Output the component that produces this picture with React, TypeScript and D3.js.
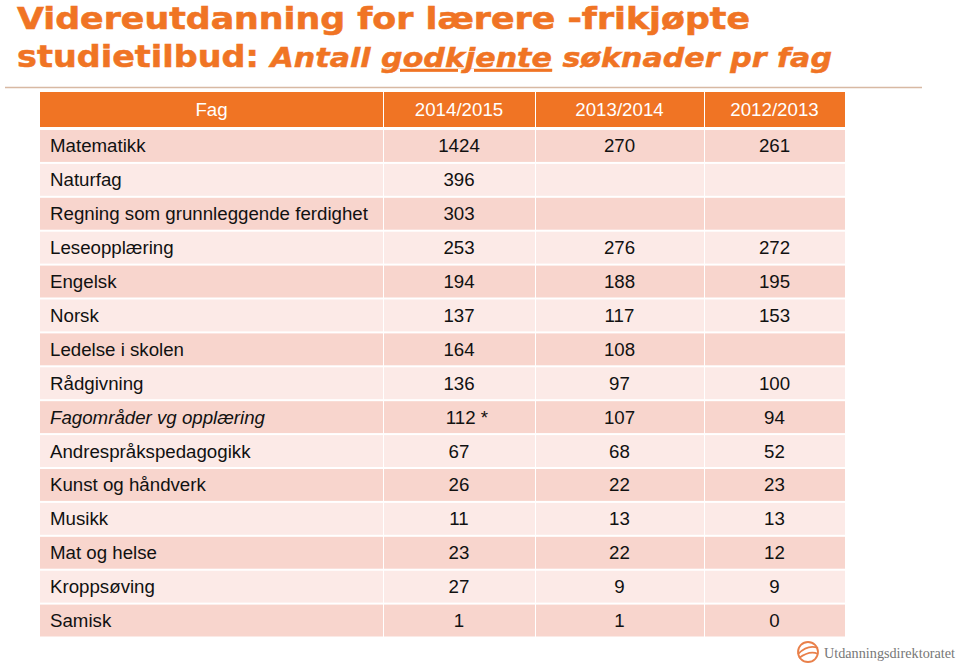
import React from "react";
import * as d3 from "d3";

const columns = ["Fag", "2014/2015", "2013/2014", "2012/2013"];
const subjects = [
  "Matematikk",
  "Naturfag",
  "Regning som grunnleggende ferdighet",
  "Leseopplæring",
  "Engelsk",
  "Norsk",
  "Ledelse i skolen",
  "Rådgivning",
  "Fagområder vg opplæring",
  "Andrespråkspedagogikk",
  "Kunst og håndverk",
  "Musikk",
  "Mat og helse",
  "Kroppsøving",
  "Samisk",
];
const y2014 = ["1424", "396", "303", "253", "194", "137", "164", "136", "112 *", "67", "26", "11", "23", "27", "1"];
const y2013 = ["270", "", "", "276", "188", "117", "108", "97", "107", "68", "22", "13", "22", "9", "1"];
const y2012 = ["261", "", "", "272", "195", "153", "", "100", "94", "52", "23", "13", "12", "9", "0"];
const italicRows = ["Fagområder vg opplæring"];

const W = 959;
const H = 667;
const ORANGE = "#F07424";
const DARK = "#F8D5CD";
const LIGHT = "#FCEAE7";

export default function App() {
  const colEdges = [40, 383, 535, 704, 845];
  const headerTop = 92;
  const headerH = 35;
  const rowsTop = 129;
  const rowH = 33.9;
  const y = d3
    .scaleBand<string>()
    .domain(subjects)
    .range([rowsTop, rowsTop + rowH * subjects.length])
    .padding(0);
  const values = [y2014, y2013, y2012];
  const font = "'Liberation Sans', Arial, sans-serif";
  const fs = 18.7;

  return (
    <svg width={W} height={H} style={{ position: "absolute", left: 0, top: 0 }}>
      <rect width={W} height={H} fill="#fff" />
      <text x={17} y={29} fill={ORANGE} fontFamily="'DejaVu Sans', Verdana, sans-serif" fontWeight="bold" fontSize={31} textLength={733} lengthAdjust="spacingAndGlyphs" stroke={ORANGE} strokeWidth={0.6}>
        Videreutdanning for lærere -frikjøpte
      </text>
      <text x={17} y={67} fill={ORANGE} fontFamily="'DejaVu Sans', Verdana, sans-serif" fontWeight="bold" fontSize={30} textLength={815} lengthAdjust="spacingAndGlyphs" stroke={ORANGE} strokeWidth={0.5}>
        <tspan>studietilbud: </tspan>
        <tspan fontStyle="italic" fontSize={27}>Antall </tspan>
        <tspan fontStyle="italic" fontSize={27} textDecoration="underline">godkjente</tspan>
        <tspan fontStyle="italic" fontSize={27}> søknader pr fag</tspan>
      </text>
      <line x1={5} x2={922} y1={87.5} y2={87.5} stroke="#D8B9A3" strokeWidth={1.5} />

      {/* header */}
      {columns.map((c, i) => (
        <g key={c}>
          <rect x={colEdges[i] + (i ? 1 : 0)} y={headerTop} width={colEdges[i + 1] - colEdges[i] - (i ? 1 : 0)} height={headerH} fill={ORANGE} />
          <text x={(colEdges[i] + colEdges[i + 1]) / 2} y={headerTop + headerH / 2 + 6.5} textAnchor="middle" fill="#fff" fontFamily={font} fontSize={fs}>
            {c}
          </text>
        </g>
      ))}

      {/* body */}
      {subjects.map((s, r) => {
        const top = y(s)!;
        const h = y.bandwidth();
        const fill = r % 2 === 0 ? DARK : LIGHT;
        const cy = top + h / 2 + 6.5;
        return (
          <g key={s}>
            {colEdges.slice(0, 4).map((x0, i) => (
              <rect key={i} x={x0 + (i ? 1 : 0)} y={top + 1} width={colEdges[i + 1] - x0 - (i ? 1 : 0)} height={h - 2} fill={fill} />
            ))}
            <text x={50} y={cy} fill="#111" fontFamily={font} fontSize={fs} fontStyle={italicRows.includes(s) ? "italic" : "normal"}>
              {s}
            </text>
            {values.map((vals, i) => (
              <text key={i} x={(colEdges[i + 1] + colEdges[i + 2]) / 2 + (vals[r].includes("*") ? 8 : 0)} y={cy} textAnchor="middle" fill="#111" fontFamily={font} fontSize={fs}>
                {vals[r]}
              </text>
            ))}
          </g>
        );
      })}

      {/* logo */}
      <g transform="translate(808,652)">
        <circle r={10} fill="none" stroke="#E9804A" strokeWidth={1.8} />
        <path d="M-10,2 Q0,-8 10,-4" fill="none" stroke="#E9804A" strokeWidth={1.8} />
        <path d="M-9,6 Q2,-2 10,2" fill="none" stroke="#E9804A" strokeWidth={1.8} />
      </g>
      <text x={824} y={658} fill="#777" fontFamily="'Liberation Serif', 'DejaVu Serif', serif" fontSize={14} textLength={131} lengthAdjust="spacingAndGlyphs">
        Utdanningsdirektoratet
      </text>
    </svg>
  );
}
